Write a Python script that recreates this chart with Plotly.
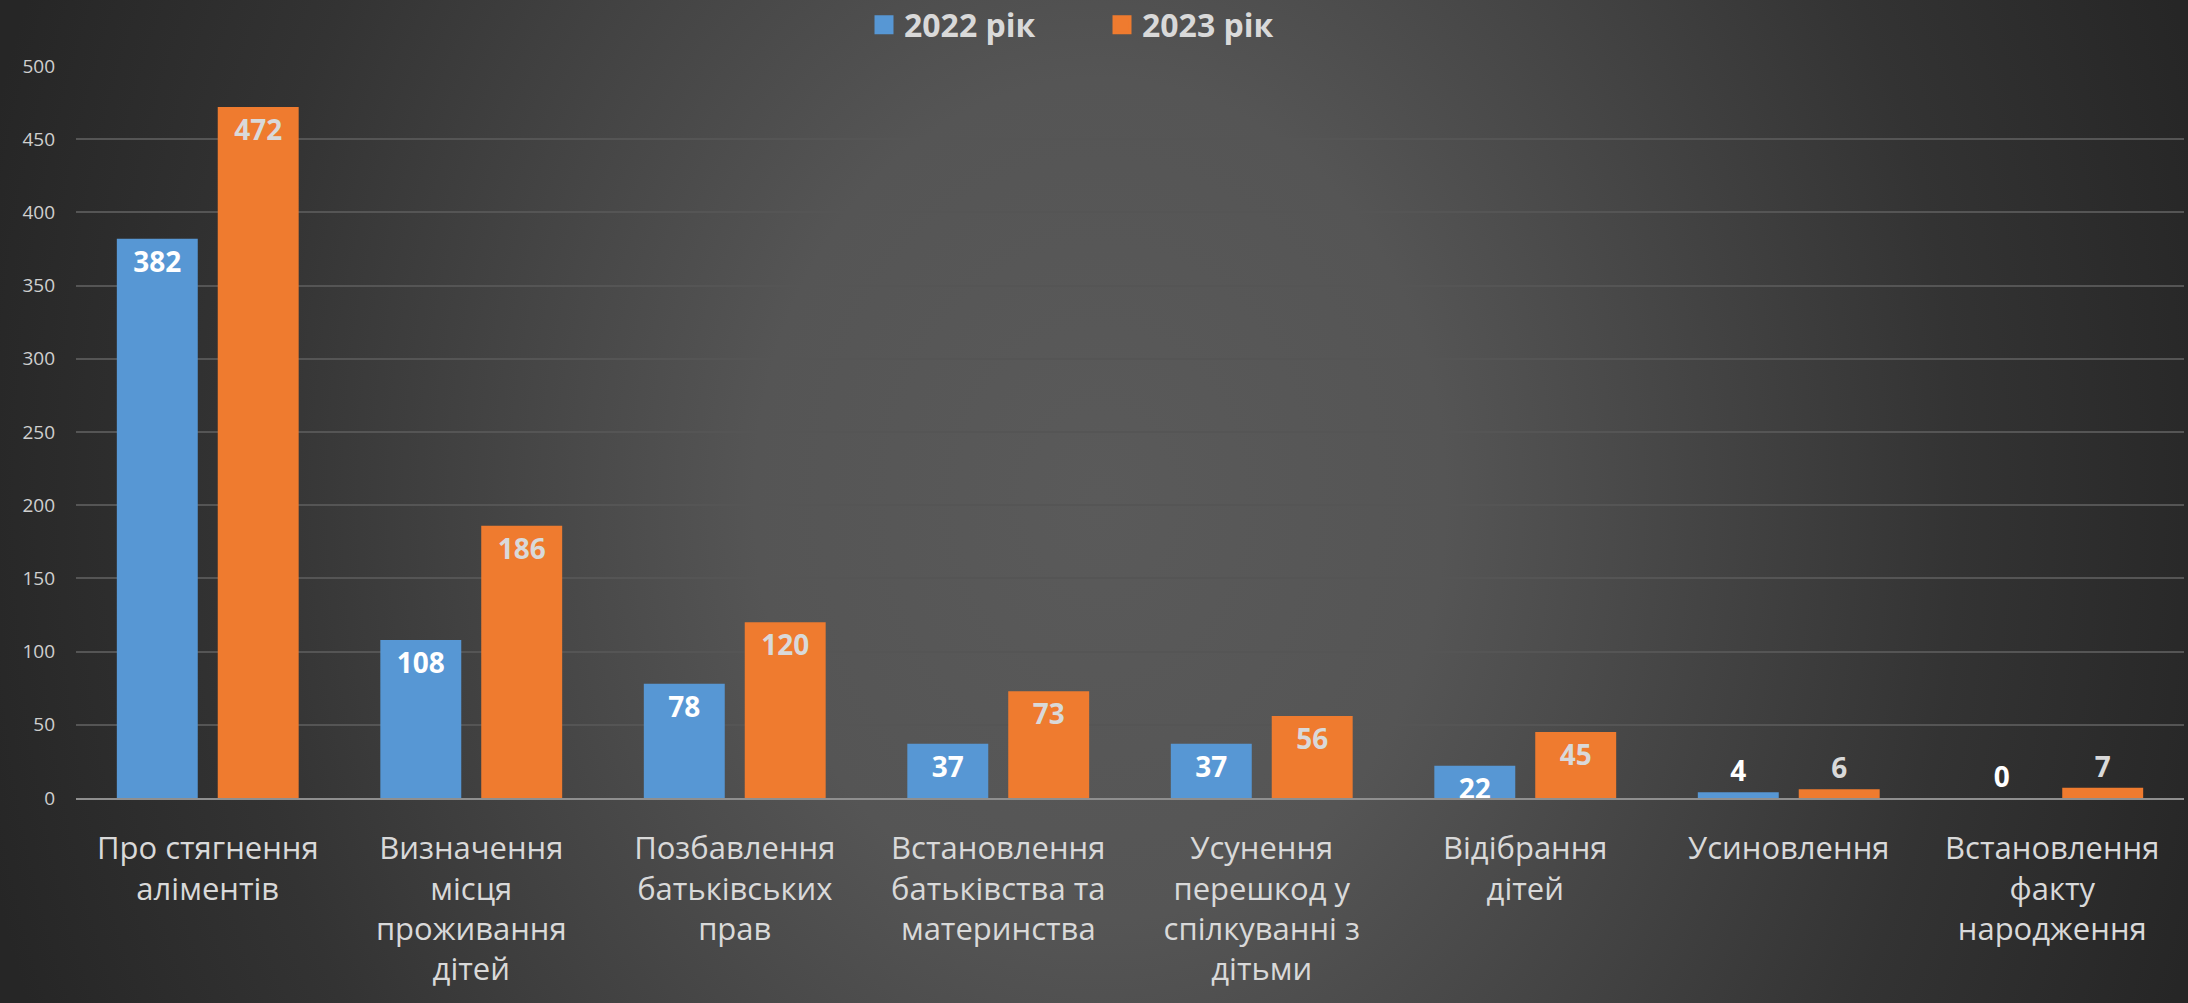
import base64
import plotly.graph_objects as go

categories = [
    "Про стягнення<br>аліментів",
    "Визначення<br>місця<br>проживання<br>дітей",
    "Позбавлення<br>батьківських<br>прав",
    "Встановлення<br>батьківства та<br>материнства",
    "Усунення<br>перешкод у<br>спілкуванні з<br>дітьми",
    "Відібрання<br>дітей",
    "Усиновлення",
    "Встановлення<br>факту<br>народження",
]
values_2022 = [382, 108, 78, 37, 37, 22, 4, 0]
values_2023 = [472, 186, 120, 73, 56, 45, 6, 7]
series_names = ["2022 рік", "2023 рік"]
series_colors = ["#5797d4", "#ef7b2f"]
label_colors = ["#ffffff", "#d9d9d9"]
y_ticks = [0, 50, 100, 150, 200, 250, 300, 350, 400, 450, 500]

W, H = 2188, 1003
ML, MR, MT, MB = 76, 4, 66, 205
PW, PH = W - ML - MR, H - MT - MB

svg = f'''<svg xmlns="http://www.w3.org/2000/svg" width="{W}" height="{H}" viewBox="0 0 {W} {H}">
<defs><radialGradient id="g" gradientUnits="userSpaceOnUse" cx="1100" cy="500" r="1150"
 gradientTransform="translate(1100 500) scale(1 1.22) translate(-1100 -500)">
<stop offset="0" stop-color="#5a5a5a"/><stop offset="0.3" stop-color="#555555"/>
<stop offset="0.75" stop-color="#333333"/><stop offset="1" stop-color="#262626"/>
</radialGradient></defs>
<rect width="{W}" height="{H}" fill="url(#g)"/></svg>'''
bg_uri = "data:image/svg+xml;base64," + base64.b64encode(svg.encode()).decode()


def positions(vals):
    return ["inside" if v >= 20 else "outside" for v in vals]


fig = go.Figure()
for name, vals, col, lcol in zip(series_names, [values_2022, values_2023], series_colors, label_colors):
    fig.add_trace(go.Bar(
        x=categories, y=vals, name=name, showlegend=False,
        marker=dict(color=col, line=dict(width=0)),
        text=[str(v) for v in vals], textposition=positions(vals),
        insidetextanchor="end", textangle=0, constraintext="none",
        textfont=dict(family="Open Sans", size=28, color=lcol, weight="bold"),
        cliponaxis=False, hoverinfo="skip",
    ))
# legend entries with larger square swatches
for name, col in zip(series_names, series_colors):
    fig.add_trace(go.Scatter(
        x=[None], y=[None], mode="markers", name=name,
        marker=dict(symbol="square", size=16, color=col, line=dict(color=col, width=3)),
    ))

fig.update_layout(
    width=W, height=H,
    margin=dict(l=ML, r=MR, t=MT, b=MB, autoexpand=False),
    paper_bgcolor="#2a2a2a",
    plot_bgcolor="rgba(0,0,0,0)",
    barmode="group", bargap=0.234, bargroupgap=0.198,
    uniformtext=dict(minsize=28, mode="show"),
    font=dict(family="Open Sans", color="#d9d9d9"),
    legend=dict(
        orientation="h", x=0.5 - 28 / PW, xanchor="center", y=1.0 + 41 / PH, yanchor="middle",
        font=dict(family="Open Sans", size=32, color="#d9d9d9", weight="bold"),
        bgcolor="rgba(0,0,0,0)", itemwidth=30, itemsizing="trace",
        entrywidthmode="pixels", entrywidth=193,
    ),
    images=[dict(
        source=bg_uri, xref="paper", yref="paper",
        x=-ML / PW, y=1 + MT / PH, sizex=W / PW, sizey=H / PH,
        xanchor="left", yanchor="top", sizing="stretch", layer="below",
    )],
    xaxis=dict(
        showgrid=False, showline=True, linecolor="#8f8f8f", linewidth=2,
        ticks="", tickfont=dict(family="Open Sans", size=31, color="#d9d9d9"),
        ticklabelstandoff=22,
    ),
    yaxis=dict(
        range=[0, 500], tickvals=y_ticks, showgrid=True, gridcolor="#555555", gridwidth=1.5,
        zeroline=False, showline=False, ticks="",
        tickfont=dict(family="Open Sans", size=19, color="#cfcfcf"),
        ticklabelstandoff=20,
    ),
)

fig.write_html(
    "out.html",
    config={"displayModeBar": False},
    post_script="document.body.style.margin='0';document.body.style.overflow='hidden';",
)
